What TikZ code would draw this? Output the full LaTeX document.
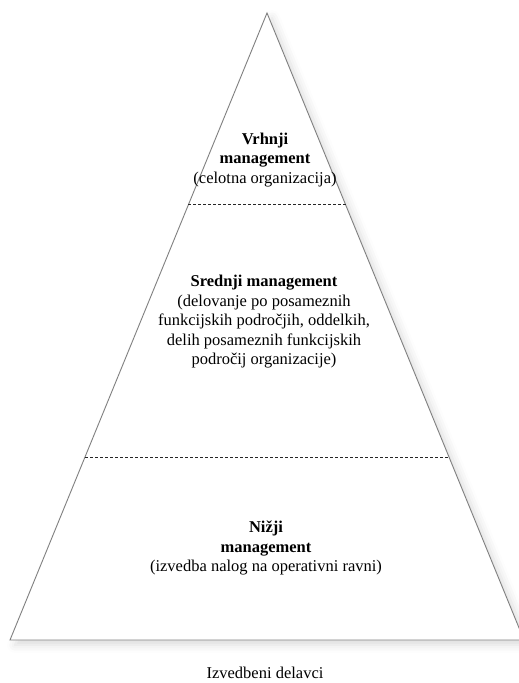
\documentclass[tikz,border=0pt]{standalone}
\usepackage{fontspec}
\setmainfont{Liberation Serif}
\usetikzlibrary{calc,shadows.blur}

\tikzset{
  pyramid/.style={draw=black!50, line width=0.9pt, fill=white,
    blur shadow={shadow xshift=5pt, shadow yshift=-5pt,
      shadow blur radius=8pt, shadow opacity=14}},
  levelsep/.style={draw=black!85, line width=0.8pt, dash pattern=on 3pt off 2pt},
  leveltext/.style={align=center, inner sep=0pt,
    font=\fontsize{16.5}{19.5}\selectfont},
}

\begin{document}
\begin{tikzpicture}[x=1pt, y=-1pt]
  \useasboundingbox (0,0) rectangle (519,683);

  % corners of the pyramid
  \coordinate (apex) at (267,13);
  \coordinate (bl) at (10,640);
  \coordinate (br) at (524,640);

  \path[pyramid] (apex) -- (bl) -- (br) -- cycle;

  % boundaries between the management levels
  \coordinate (s1l) at ($(apex)!0.306!(bl)$);
  \coordinate (s1r) at ($(apex)!0.306!(br)$);
  \coordinate (s2l) at ($(apex)!0.708!(bl)$);
  \coordinate (s2r) at ($(apex)!0.708!(br)$);
  \draw[levelsep] (s1l) -- (s1r);
  \draw[levelsep] (s2l) -- (s2r);

  % level descriptions
  \node[leveltext] (top) at (265,160)
    {\textbf{Vrhnji}\\ \textbf{management}\\ (celotna organizacija)};
  \node[leveltext] (mid) at (264,322)
    {\textbf{Srednji management}\\ (delovanje po posameznih\\ funkcijskih področjih, oddelkih,\\ delih posameznih funkcijskih\\ področij organizacije)};
  \node[leveltext] (low) at (266,548)
    {\textbf{Nižji}\\ \textbf{management}\\ (izvedba nalog na operativni ravni)};

  % workers below the pyramid
  \node[leveltext] (workers) at (265,673) {Izvedbeni delavci};
\end{tikzpicture}
\end{document}
